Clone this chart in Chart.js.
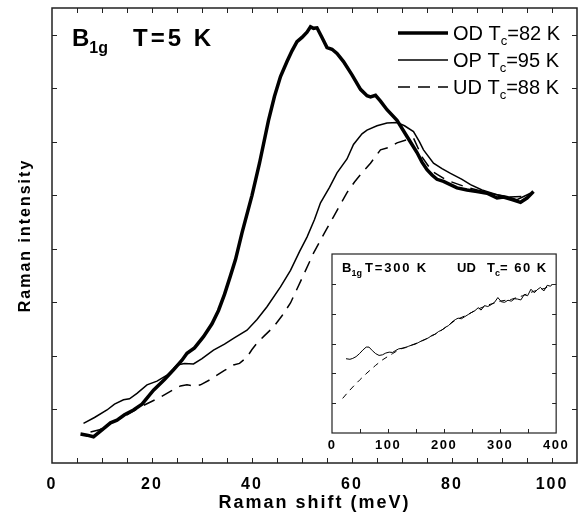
<!DOCTYPE html>
<html>
<head>
<meta charset="utf-8">
<script src="https://cdn.jsdelivr.net/npm/chart.js@4/dist/chart.umd.min.js"></script>
<style>
  html, body { margin: 0; padding: 0; background: #fff; }
  #wrap { position: relative; width: 579px; height: 518px; }
  #main { position: absolute; left: 0; top: 0; }
  #inset { position: absolute; left: 318px; top: 248px; }
</style>
</head>
<body>
<div id="wrap">
  <canvas id="main" width="579" height="518"></canvas>
  <canvas id="inset" width="254" height="205"></canvas>
</div>
<script>
// Main panel, B1g T=5 K (Raman shift in meV, intensity arb. units)
const odShift = [5.7, 7, 8.3, 10, 11.7, 13, 14.5, 16.3, 18, 20.3, 22.5, 24.3, 26, 27, 28.5, 30.3, 32, 33.3, 34.5, 35.7, 36.7, 38, 40, 41.5, 43.3, 44.5, 45.7, 47, 48, 49, 50, 51, 51.7, 52.3, 53, 54, 55, 56, 57, 58.3, 60, 61.7, 63, 63.7, 64.7, 65.7, 67, 69, 71, 72, 73, 74, 75, 76, 77, 78.3, 81, 83, 85, 87, 89, 90.3, 92, 93.7, 95, 96.3];
const odIntensity = [0.54, 0.52, 0.49, 0.62, 0.75, 0.8, 0.9, 0.99, 1.1, 1.36, 1.56, 1.74, 1.92, 2.05, 2.15, 2.36, 2.6, 2.85, 3.15, 3.5, 3.8, 4.3, 5.0, 5.6, 6.4, 6.85, 7.22, 7.5, 7.7, 7.87, 7.95, 8.05, 8.15, 8.12, 8.13, 7.95, 7.76, 7.73, 7.65, 7.5, 7.25, 6.98, 6.86, 6.84, 6.87, 6.76, 6.6, 6.4, 6.1, 5.95, 5.8, 5.62, 5.48, 5.38, 5.3, 5.26, 5.14, 5.1, 5.07, 5.04, 4.95, 4.97, 4.92, 4.87, 4.95, 5.07];

const opShift = [6.3, 8.5, 11, 12.5, 14.3, 15.5, 17, 19, 21, 23, 25, 26.5, 28.3, 30, 32.3, 34.5, 36.3, 39, 41, 43, 45.7, 47.7, 49.5, 51, 52.5, 53.7, 55.5, 57, 59, 60.3, 62, 63, 65, 67, 69, 70.5, 72.3, 73.5, 74.3, 76.3, 78, 79.7, 82, 83.7, 86, 89, 91, 93, 95.7];
const opIntensity = [0.74, 0.85, 0.99, 1.1, 1.18, 1.2, 1.3, 1.46, 1.53, 1.64, 1.83, 1.86, 1.85, 1.95, 2.11, 2.22, 2.33, 2.48, 2.68, 2.92, 3.29, 3.6, 3.95, 4.22, 4.55, 4.86, 5.15, 5.42, 5.68, 5.95, 6.15, 6.22, 6.3, 6.35, 6.36, 6.3, 6.19, 6.0, 5.85, 5.6, 5.5, 5.41, 5.3, 5.2, 5.1, 5.01, 4.98, 4.92, 5.04];

const udShift = [7.7, 9.5, 11.7, 13.5, 15, 17.7, 19.5, 21.7, 23.5, 25.7, 27, 28.5, 29.7, 31.5, 33, 34.5, 36.3, 37.5, 39, 40, 41, 42.5, 44.3, 46, 47.7, 50, 52.3, 54.5, 56.3, 59, 60.5, 62, 63.7, 65.7, 67.5, 69, 71, 72.3, 74, 76, 79, 83, 87, 91, 95];
const udIntensity = [0.58, 0.62, 0.75, 0.82, 0.9, 1.05, 1.13, 1.23, 1.33, 1.44, 1.46, 1.44, 1.46, 1.55, 1.64, 1.73, 1.83, 1.86, 1.98, 2.12, 2.24, 2.38, 2.54, 2.75, 2.99, 3.45, 3.92, 4.3, 4.6, 5.05, 5.25, 5.42, 5.6, 5.85, 5.9, 5.98, 6.04, 6.07, 5.72, 5.45, 5.28, 5.15, 5.05, 4.97, 4.98];

const mainXTicks = [0, 20, 40, 60, 80, 100];

// Inset, B1g T=300 K, UD Tc=60 K (Raman shift in cm-1)
const insetShift = [25, 32, 37, 43, 49, 55, 61, 66, 72, 78, 84, 90, 96, 102, 108, 114, 119, 125, 131, 137, 143, 149, 155, 161, 167, 173, 178, 184, 190, 196, 202, 208, 214, 220, 225, 231, 237, 243, 249, 255, 261, 266, 272, 278, 284, 290, 296, 302, 308, 314, 320, 326, 331, 337, 343, 349, 355, 361, 366, 372, 378, 384, 390, 393];
const insetMeasured = [2.49, 2.47, 2.5, 2.56, 2.66, 2.78, 2.88, 2.88, 2.76, 2.66, 2.6, 2.62, 2.68, 2.71, 2.7, 2.77, 2.82, 2.84, 2.86, 2.91, 2.95, 2.98, 3.04, 3.1, 3.14, 3.2, 3.27, 3.31, 3.4, 3.45, 3.54, 3.6, 3.72, 3.8, 3.85, 3.83, 3.9, 3.97, 4.04, 4.1, 4.2, 4.12, 4.27, 4.24, 4.3, 4.38, 4.54, 4.4, 4.38, 4.45, 4.42, 4.5, 4.49, 4.46, 4.64, 4.6, 4.82, 4.7, 4.8, 4.88, 4.76, 4.95, 4.92, 4.99];
const insetFitShift = [19, 30, 40, 49, 60, 70, 78, 90, 100, 108, 120, 140, 160, 180, 200, 220, 240, 260, 280, 300, 320, 340, 360, 380, 393];
const insetFit = [1.16, 1.4, 1.6, 1.77, 1.97, 2.14, 2.27, 2.45, 2.57, 2.66, 2.8, 2.93, 3.08, 3.27, 3.5, 3.78, 3.95, 4.15, 4.3, 4.42, 4.48, 4.6, 4.75, 4.85, 4.97];
const insetXTicks = [0, 100, 200, 300, 400];

const FONT = "'Liberation Sans', Arial, Helvetica, sans-serif";

function pts(xs, ys) {
    return xs.map((x, i) => ({ x: x, y: ys[i] }));
}

// draw a string made of pieces (for subscripts)
function drawParts(ctx, x, y, parts) {
    let cx = x;
    parts.forEach(p => {
        ctx.font = p.font;
        ctx.letterSpacing = (p.ls || 0) + 'px';
        ctx.fillText(p.t, cx, y + (p.dy || 0));
        cx += ctx.measureText(p.t).width;
    });
}

// box + inward ticks on all four sides
const frameTicks = {
    id: 'frameTicks',
    beforeDraw(chart, args, opts) {
        const ctx = chart.ctx;
        ctx.letterSpacing = opts.spacing + 'px';
        if (opts.fill) {
            const a = chart.chartArea;
            ctx.save();
            ctx.fillStyle = '#fff';
            ctx.fillRect(a.left, a.top, a.right - a.left, a.bottom - a.top);
            ctx.restore();
        }
    },
    afterDatasetsDraw(chart, args, opts) {
        const { ctx, chartArea: a, scales: { x, y } } = chart;
        ctx.save();
        ctx.strokeStyle = '#222';
        ctx.lineWidth = opts.width;
        ctx.strokeRect(a.left, a.top, a.right - a.left, a.bottom - a.top);
        ctx.lineWidth = 1;
        ctx.beginPath();
        for (let v = x.min + opts.xStep; v < x.max - 0.001; v += opts.xStep) {
            const px = Math.round(x.getPixelForValue(v)) + 0.5;
            ctx.moveTo(px, a.bottom); ctx.lineTo(px, a.bottom - opts.len);
            if (opts.top) { ctx.moveTo(px, a.top); ctx.lineTo(px, a.top + opts.len); }
        }
        for (let v = y.min + opts.yStep; v < y.max - 0.001; v += opts.yStep) {
            const py = Math.round(y.getPixelForValue(v)) + 0.5;
            ctx.moveTo(a.left, py); ctx.lineTo(a.left + opts.len, py);
            ctx.moveTo(a.right, py); ctx.lineTo(a.right - opts.len, py);
        }
        ctx.stroke();
        ctx.restore();
    }
};

// title and legend of the main panel
const mainLabels = {
    id: 'mainLabels',
    afterDraw(chart) {
        const ctx = chart.ctx;
        ctx.save();
        ctx.fillStyle = '#000';
        ctx.textBaseline = 'alphabetic';
        drawParts(ctx, 72, 46, [
            { t: 'B', font: 'bold 24px ' + FONT },
            { t: '1g', font: 'bold 16px ' + FONT, dy: 7 }
        ]);
        drawParts(ctx, 133, 46, [{ t: 'T=5 K', font: 'bold 24px ' + FONT, ls: 3 }]);

        const rows = [
            { y: 33, w: 3.5, dash: [], label: ['OD T', 'c', '=82 K'] },
            { y: 60, w: 1.5, dash: [], label: ['OP T', 'c', '=95 K'] },
            { y: 87, w: 1.5, dash: [12, 8], label: ['UD T', 'c', '=88 K'] }
        ];
        rows.forEach(r => {
            ctx.beginPath();
            ctx.lineWidth = r.w;
            ctx.strokeStyle = '#000';
            ctx.setLineDash(r.dash);
            ctx.moveTo(398, r.y);
            ctx.lineTo(448, r.y);
            ctx.stroke();
            ctx.setLineDash([]);
            drawParts(ctx, 453, r.y + 7, [
                { t: r.label[0], font: '20px ' + FONT },
                { t: r.label[1], font: '13px ' + FONT, dy: 5 },
                { t: r.label[2], font: '20px ' + FONT }
            ]);
        });
        ctx.restore();
    }
};

const insetLabels = {
    id: 'insetLabels',
    afterDraw(chart) {
        const ctx = chart.ctx;
        ctx.save();
        ctx.fillStyle = '#000';
        // canvas sits at (318, 248)
        drawParts(ctx, 342 - 318, 272 - 248, [
            { t: 'B', font: 'bold 13px ' + FONT },
            { t: '1g', font: 'bold 9px ' + FONT, dy: 4 }
        ]);
        drawParts(ctx, 365 - 318, 272 - 248, [{ t: 'T=300 K', font: 'bold 13px ' + FONT, ls: 1.8 }]);
        drawParts(ctx, 457 - 318, 272 - 248, [
            { t: 'UD', font: 'bold 13px ' + FONT },
        ]);
        drawParts(ctx, 487 - 318, 272 - 248, [
            { t: 'T', font: 'bold 13px ' + FONT },
            { t: 'c', font: 'bold 9px ' + FONT, dy: 4 },
            { t: '= 60 K', font: 'bold 13px ' + FONT, ls: 1.5 }
        ]);
        ctx.restore();
    }
};

new Chart(document.getElementById('main'), {
    type: 'line',
    data: {
        datasets: [
            { label: 'OD', data: pts(odShift, odIntensity), borderColor: '#000', borderWidth: 3.5 },
            { label: 'OP', data: pts(opShift, opIntensity), borderColor: '#000', borderWidth: 1.5 },
            { label: 'UD', data: pts(udShift, udIntensity), borderColor: '#000', borderWidth: 1.5, borderDash: [12, 8] }
        ]
    },
    options: {
        responsive: false,
        animation: false,
        layout: { padding: { top: 8, right: 2, left: 0, bottom: 0 } },
        elements: { point: { radius: 0 }, line: { tension: 0, fill: false } },
        plugins: {
            legend: { display: false },
            tooltip: { enabled: false },
            frameTicks: { spacing: 2, width: 1.5, len: 5, xStep: 5, yStep: 1, top: true }
        },
        scales: {
            x: {
                type: 'linear', min: 0, max: 105,
                afterFit: s => { s.height = 55; },
                afterBuildTicks: s => { s.ticks = mainXTicks.map(v => ({ value: v })); },
                grid: { display: false, drawTicks: false },
                border: { display: false },
                ticks: { color: '#000', padding: 12, autoSkip: false, maxRotation: 0, font: { family: FONT, size: 16, weight: 'bold' } },
                title: { display: true, text: 'Raman shift (meV)', color: '#000', padding: { top: 0, bottom: 4 }, font: { family: FONT, size: 18, weight: 'bold' } }
            },
            y: {
                type: 'linear', min: 0, max: 8.5,
                afterFit: s => { s.width = 52; },
                grid: { display: false, drawTicks: false },
                border: { display: false },
                ticks: { display: false },
                title: { display: true, text: 'Raman intensity', color: '#000', padding: { top: 16, bottom: 0 }, font: { family: FONT, size: 16, weight: 'bold' } }
            }
        }
    },
    plugins: [frameTicks, mainLabels]
});

new Chart(document.getElementById('inset'), {
    type: 'line',
    data: {
        datasets: [
            { label: 'fit', data: pts(insetFitShift, insetFit), borderColor: '#000', borderWidth: 1, borderDash: [6, 5] },
            { label: 'data', data: pts(insetShift, insetMeasured), borderColor: '#000', borderWidth: 1 }
        ]
    },
    options: {
        responsive: false,
        animation: false,
        layout: { padding: { top: 6, right: 13, left: 0, bottom: 0 } },
        elements: { point: { radius: 0 }, line: { tension: 0, fill: false } },
        plugins: {
            legend: { display: false },
            tooltip: { enabled: false },
            frameTicks: { spacing: 1.5, width: 1.2, len: 4, xStep: 50, yStep: 1, top: false, fill: true }
        },
        scales: {
            x: {
                type: 'linear', min: 0, max: 400,
                afterFit: s => { s.height = 20; },
                afterBuildTicks: s => { s.ticks = insetXTicks.map(v => ({ value: v })); },
                grid: { display: false, drawTicks: false },
                border: { display: false },
                ticks: { color: '#000', padding: 5, autoSkip: false, maxRotation: 0, font: { family: FONT, size: 13, weight: 'bold' } }
            },
            y: {
                type: 'linear', min: 0, max: 6,
                afterFit: s => { s.width = 14; },
                grid: { display: false, drawTicks: false },
                border: { display: false },
                ticks: { display: false }
            }
        }
    },
    plugins: [frameTicks, insetLabels]
});
</script>
</body>
</html>
